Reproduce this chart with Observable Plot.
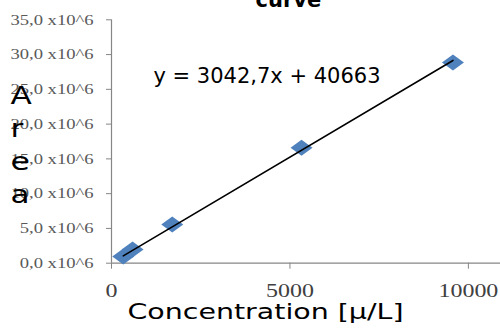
<!DOCTYPE html>
<html>
<head>
<meta charset="utf-8">
<script src="https://cdn.jsdelivr.net/npm/d3@7"></script>
<script src="https://cdn.jsdelivr.net/npm/@observablehq/plot@0.6"></script>
<style>
  html, body { margin: 0; padding: 0; background: #fff; }
  svg { display: block; }
</style>
</head>
<body>
<script>
// ---- data ----
const concentration = [330, 590, 1703, 5325, 9568];
const area = [0.95e6, 1.97e6, 5.57e6, 16.61e6, 28.87e6];
const xTicks = [0, 5000, 10000];
const yTicks = [0, 5e6, 10e6, 15e6, 20e6, 25e6, 30e6, 35e6];
const slope = 3042.7;
const intercept = 40663;
const equationLabel = "y = 3042,7x + 40663";
const titleText = "curve";
const xLabel = "Concentration [μ/L]";
const yLabel = "Area";

const points = concentration.map((c, i) => ({c, a: area[i]}));
const [cMin, cMax] = d3.extent(concentration);
const trend = [cMin, cMax].map(c => ({c, a: slope * c + intercept}));

// wide diamond marker
const wideDiamond = {
  draw(context) {
    const w = 11, h = 8;
    context.moveTo(0, -h);
    context.lineTo(w, 0);
    context.lineTo(0, h);
    context.lineTo(-w, 0);
    context.closePath();
  }
};

const sans = "'DejaVu Sans', Verdana, sans-serif";
const serif = "'Liberation Serif', 'Times New Roman', serif";

const plot = Plot.plot({
  width: 500,
  height: 328,
  marginLeft: 111,
  marginRight: 0,
  marginTop: 19.3,
  marginBottom: 65.3,
  x: {domain: [0, 10900]},
  y: {domain: [0, 35e6]},
  style: {background: "#fff", overflow: "visible"},
  marks: [
    Plot.ruleX([0], {y1: 0, y2: 35e6, stroke: "#868686", strokeWidth: 1.2}),
    Plot.ruleY([0], {stroke: "#868686", strokeWidth: 1.2}),
    Plot.axisY({
      ticks: yTicks, tickSize: 5, tickPadding: 13, label: null,
      tickFormat: d => (d / 1e6).toFixed(1).replace(".", ",") + " x10^6",
      fontFamily: serif, fontSize: 15, fill: "#595959", stroke: "#868686"
    }),
    Plot.axisX({
      ticks: xTicks, tickSize: 6, tickPadding: 14, label: null,
      tickFormat: d => String(d),
      fontFamily: serif, fontSize: 19, fill: "#404040", stroke: "#868686"
    }),
    Plot.dot(points, {x: "c", y: "a", symbol: wideDiamond, fill: "#4F81BD", stroke: "none", r: 8}),
    Plot.line(trend, {x: "c", y: "a", stroke: "#000", strokeWidth: 1.6}),
    Plot.text([equationLabel], {
      frameAnchor: "top-left", dx: 42, dy: 62.7, textAnchor: "start", lineAnchor: "bottom",
      fontFamily: sans, fontSize: 21, fill: "#000"
    }),
    Plot.text([titleText], {
      frameAnchor: "top-left", dx: 144, dy: -13, textAnchor: "start", lineAnchor: "bottom",
      fontFamily: sans, fontSize: 21, fontWeight: "bold", fill: "#000"
    }),
    Plot.text([xLabel], {
      frameAnchor: "bottom-left", dx: 16, dy: 55.3, textAnchor: "start", lineAnchor: "bottom",
      fontFamily: sans, fontSize: 21, fill: "#000"
    }),
    ...yLabel.split("").map((ch, i) => Plot.text([ch], {
      frameAnchor: "top-left", dx: -101, dy: 84.2 + i * 33, textAnchor: "start", lineAnchor: "bottom",
      fontFamily: sans, fontSize: 24, fill: "#000"
    }))
  ]
});

document.body.appendChild(plot);

// horizontal stretch of texts, as in the reference
function stretch(sel, factor) {
  sel.each(function() {
    const len = this.getComputedTextLength();
    this.setAttribute("textLength", (len * factor).toFixed(1));
    this.setAttribute("lengthAdjust", "spacingAndGlyphs");
  });
}
const svg = d3.select(plot);
stretch(svg.selectAll('g[aria-label="y-axis tick label"] text'), 1.24);
stretch(svg.selectAll('g[aria-label="x-axis tick label"] text'), 1.26);
svg.selectAll('g[aria-label="text"] text').each(function() {
  const t = this.textContent;
  if (t === xLabel) { this.setAttribute("textLength", 276); this.setAttribute("lengthAdjust", "spacingAndGlyphs"); }
  else if (t.length === 1) stretch(d3.select(this), 1.3);
});
</script>
</body>
</html>
